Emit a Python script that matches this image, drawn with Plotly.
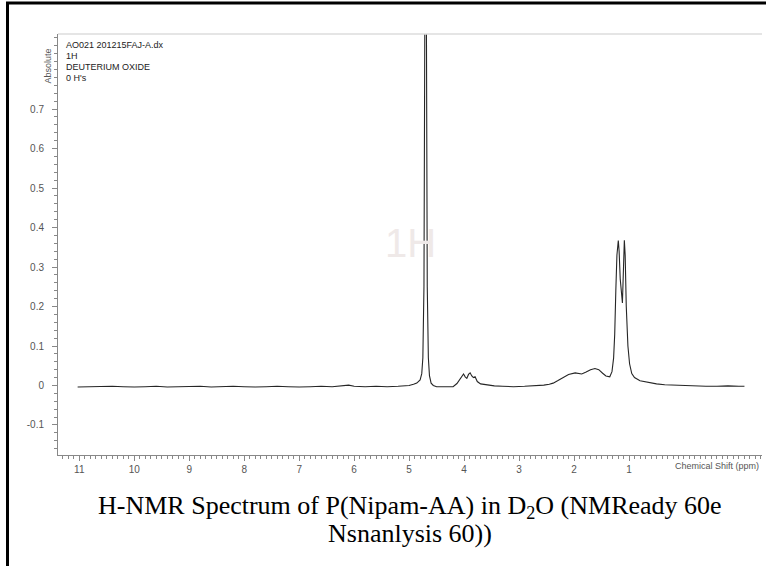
import plotly.graph_objects as go

# ---- data ----
ppm = [11.03, 10.8, 10.6, 10.4, 10.2, 10.0, 9.8, 9.6, 9.4, 9.2, 9.0, 8.8, 8.6, 8.4, 8.2,
       8.0, 7.8, 7.6, 7.4, 7.2, 7.0, 6.8, 6.6, 6.4, 6.2, 6.1, 6.0, 5.8, 5.6, 5.4, 5.2,
       5.0, 4.92, 4.86, 4.8, 4.77, 4.75, 4.73, 4.715, 4.70, 4.685, 4.67, 4.65, 4.63,
       4.6, 4.56, 4.5, 4.4, 4.3, 4.2, 4.13, 4.09, 4.05, 4.01, 3.98, 3.95, 3.92, 3.89,
       3.86, 3.83, 3.80, 3.76, 3.7, 3.59, 3.45, 3.3, 3.1, 2.9, 2.7, 2.55, 2.45, 2.38,
       2.3, 2.2, 2.1, 1.98, 1.92, 1.86, 1.78, 1.7, 1.62, 1.55, 1.48, 1.42, 1.35, 1.31,
       1.28, 1.26, 1.24, 1.22, 1.195, 1.18, 1.16, 1.14, 1.12, 1.10, 1.085, 1.07, 1.05,
       1.02, 0.99, 0.95, 0.9, 0.8, 0.7, 0.62, 0.5, 0.35, 0.2, 0.0, -0.2, -0.4, -0.6,
       -0.8, -1.0, -1.1]
intensity = [-0.004, -0.003, -0.004, -0.002, -0.003, -0.004, -0.003, -0.002, -0.004,
             -0.003, -0.003, -0.002, -0.004, -0.003, -0.002, -0.003, -0.004, -0.003,
             -0.002, -0.003, -0.004, -0.003, -0.002, -0.003, -0.001, 0.001, -0.002,
             -0.003, -0.002, -0.003, -0.002,
             0.000, 0.003, 0.006, 0.014, 0.03, 0.07, 0.25, 0.9, 2.5, 0.9, 0.25, 0.07,
             0.025, 0.006, 0.0, -0.003, -0.003, -0.004, -0.003, 0.005, 0.013, 0.022,
             0.029, 0.022, 0.018, 0.028, 0.032, 0.024, 0.02, 0.022, 0.01, 0.004, 0.001,
             -0.001, -0.002, -0.003, -0.002, -0.001, 0.001, 0.003, 0.006,
             0.012, 0.021, 0.028, 0.032, 0.031, 0.029, 0.034, 0.04, 0.043, 0.04, 0.031,
             0.024, 0.022, 0.035, 0.07, 0.13, 0.24, 0.33, 0.367, 0.34, 0.27, 0.225,
             0.209, 0.3, 0.368, 0.33, 0.2, 0.1, 0.055, 0.03, 0.02, 0.012, 0.009, 0.007,
             0.004, 0.002, 0.001, 0.0, -0.001, -0.002, -0.002, -0.001, -0.002, -0.002]

x_ticks = [11, 10, 9, 8, 7, 6, 5, 4, 3, 2, 1]
x_ticktext = ["11", "10", "9", "8", "7", "6", "5", "4", "3", "2", "1"]
y_ticks = [-0.1, 0, 0.1, 0.2, 0.3, 0.4, 0.5, 0.6, 0.7]
y_ticktext = ["-0.1", "0", "0.1", "0.2", "0.3", "0.4", "0.5", "0.6", "0.7"]
info_lines = ["AO021 201215FAJ-A.dx", "1H", "DEUTERIUM OXIDE", "0 H's"]

W, H = 766, 566
L, R, T, B = 58, 4, 34, 111
PW, PH = W - L - R, H - T - B


def px(x):
    return (x - L) / PW


def py(y):
    return (H - B - y) / PH


fig = go.Figure()
fig.add_trace(go.Scatter(x=ppm, y=intensity, mode="lines",
                         line=dict(color="#262626", width=1.1),
                         showlegend=False, hoverinfo="skip"))

axis_font = dict(family="Arial, Liberation Sans, sans-serif", size=10, color="#555555")

fig.update_layout(
    width=W, height=H,
    margin=dict(l=L, r=R, t=T, b=B),
    paper_bgcolor="white", plot_bgcolor="white",
    xaxis=dict(range=[11.387, -1.419], tickvals=x_ticks, ticktext=x_ticktext,
               ticks="outside", ticklen=5, tickcolor="#888888", tickwidth=1,
               minor=dict(dtick=0.1, ticks="outside", ticklen=3, tickcolor="#888888"),
               showline=True, linecolor="#888888", linewidth=1,
               showgrid=False, zeroline=False, tickfont=axis_font),
    yaxis=dict(range=[-0.176, 0.89], tickvals=y_ticks, ticktext=y_ticktext,
               ticks="outside", ticklen=5, tickcolor="#888888", tickwidth=1,
               minor=dict(dtick=0.02, ticks="outside", ticklen=3, tickcolor="#888888"),
               showline=True, linecolor="#888888", linewidth=1,
               showgrid=False, zeroline=False, tickfont=axis_font,
               ticklabelstandoff=6),
    font=dict(family="Arial, Liberation Sans, sans-serif"),
)

# light top frame line
fig.add_shape(type="line", xref="paper", yref="paper", x0=0, x1=1, y0=1, y1=1,
              line=dict(color="#dddddd", width=1.5))
# black outer border (top and left)
fig.add_shape(type="line", xref="paper", yref="paper", x0=px(6), x1=px(766),
              y0=py(3), y1=py(3), line=dict(color="black", width=3))
fig.add_shape(type="line", xref="paper", yref="paper", x0=px(7.5), x1=px(7.5),
              y0=py(2), y1=py(566), line=dict(color="black", width=3))

# watermark
fig.add_annotation(x=px(410), y=py(243), xref="paper", yref="paper", text="1H",
                   showarrow=False, font=dict(size=40, color="#efe9e8",
                                              family="Arial, Liberation Sans, sans-serif"))

# info text block
for i, line in enumerate(info_lines):
    fig.add_annotation(x=px(64), y=py(45 + 11 * i), xref="paper", yref="paper",
                       text=line, showarrow=False, xanchor="left", yanchor="middle",
                       font=dict(size=9, color="#222222",
                                 family="Arial, Liberation Sans, sans-serif"))

# y axis title
fig.add_annotation(x=px(40), y=py(47), xref="paper", yref="paper", text="Absolute",
                   textangle=-90, showarrow=False,
                   font=dict(size=9, color="#555555",
                             family="Arial, Liberation Sans, sans-serif"))
# x axis title at right end
fig.add_annotation(x=px(761), y=py(466), xref="paper", yref="paper",
                   text="Chemical Shift (ppm)", showarrow=False, xanchor="right",
                   yanchor="middle",
                   font=dict(size=9, color="#555555",
                             family="Arial, Liberation Sans, sans-serif"))

# caption
cap_font = dict(size=26, color="black", family="Liberation Serif, Times New Roman, serif")
fig.add_annotation(x=px(410), y=py(507), xref="paper", yref="paper",
                   text="H-NMR Spectrum of P(Nipam-AA) in D<sub>2</sub>O (NMReady 60e",
                   showarrow=False, font=cap_font, yanchor="middle")
fig.add_annotation(x=px(410), y=py(533), xref="paper", yref="paper",
                   text="Nsnanlysis 60))", showarrow=False, font=cap_font,
                   yanchor="middle")

fig.write_html("out.html", config={"displayModeBar": False},
               post_script="document.body.style.margin='0';document.body.style.overflow='hidden';")
